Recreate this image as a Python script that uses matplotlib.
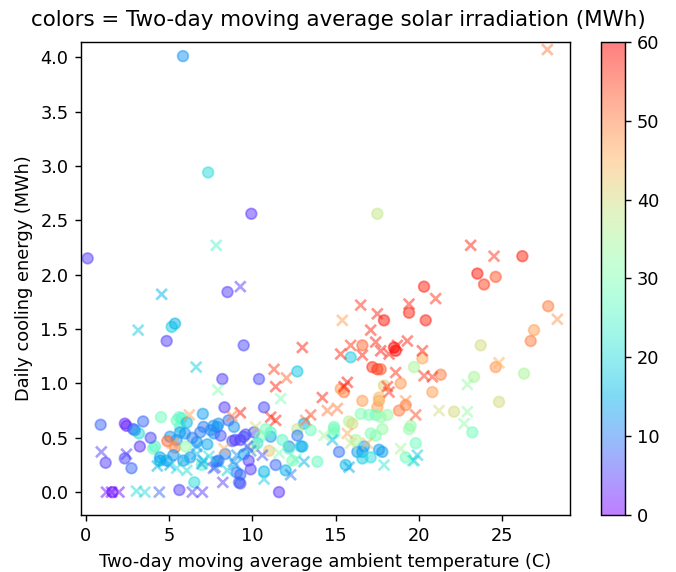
import matplotlib
matplotlib.use("Agg")
import matplotlib.pyplot as plt
import numpy as np

# circles: (temperature, cooling energy, solar irradiation)
circ_t = [5.84, 7.35, 9.94, 0.12, 17.5, 26.2, 23.5, 24.6, 23.9, 20.3, 8.51, 5.16, 5.36, 4.86, 9.48,
          8.2, 10.4, 12.7, 8.33, 10.7, 7.03, 4.52, 5.62, 0.9, 2.35, 2.45, 2.85, 3.45, 3.2, 2.95,
          3.25, 1.2, 2.35, 2.75, 1.6, 5.62, 9.28, 6.52, 9.07, 10.7, 11.6, 9.9, 11.4, 13.9, 12.9,
          12.2, 11.1, 11.1, 10.1, 10.8, 9.5, 8.8, 8.9, 7.9, 7.7, 7.07, 6.87, 5.76, 5.66, 5.96,
          5.46, 5.06, 4.9, 5.36, 4.16, 4.46, 5.26, 5.86, 6.27, 6.97, 6.67, 7.87, 8.37, 9.48, 7.67,
          7.97, 8.57, 8.97, 9.28, 9.6, 10.48, 10.1, 12.0, 12.2, 12.4, 9.2, 9.28, 9.78, 7.97, 11.0,
          15.5, 16.6, 17.6, 17.5, 18.8, 19.2, 13.1, 12.7, 12.7, 13.5, 14.9, 15.8, 16.5, 17.0, 17.4,
          17.7, 18.1, 17.1, 17.4, 17.8, 19.4, 19.8, 19.2, 16.3, 16.6, 16.7, 17.6, 17.8, 16.6, 15.6,
          15.2, 17.1, 16.2, 19.4, 17.9, 16.6, 15.9, 18.6, 18.5, 17.2, 17.5, 17.7, 19.7, 15.3, 18.9,
          17.9, 17.6, 20.4, 27.75, 26.9, 26.7, 23.7, 20.2, 24.6, 26.3, 23.3, 21.3, 20.8, 24.8, 22.1,
          19.5, 23.2, 14.9, 14.9, 16.0, 13.0, 4.05, 4.46, 4.86, 5.46, 6.07, 5.66,
          6.4, 7.3, 8.1, 10.3, 11.8, 6.0, 7.5, 3.9]
circ_e = [4.01, 2.94, 2.56, 2.15, 2.56, 2.17, 2.01, 1.98, 1.91, 1.89, 1.84, 1.52, 1.55, 1.39, 1.35,
          1.04, 1.04, 1.11, 0.78, 0.78, 0.72, 0.69, 0.69, 0.62, 0.63, 0.61, 0.58, 0.65, 0.54, 0.57,
          0.42, 0.27, 0.31, 0.22, 0.0, 0.02, 0.08, 0.09, 0.18, 0.19, 0.0, 0.21, 0.25, 0.28, 0.42,
          0.42, 0.51, 0.55, 0.55, 0.58, 0.35, 0.47, 0.6, 0.6, 0.54, 0.6, 0.55, 0.68, 0.6, 0.54,
          0.48, 0.51, 0.47, 0.41, 0.42, 0.29, 0.34, 0.29, 0.32, 0.25, 0.46, 0.28, 0.35, 0.51, 0.61,
          0.63, 0.66, 0.48, 0.48, 0.53, 0.51, 0.42, 0.2, 0.4, 0.29, 0.09, 0.16, 0.29, 0.29, 0.38,
          0.92, 0.84, 0.84, 0.78, 0.75, 0.8, 0.63, 0.58, 0.52, 0.57, 0.58, 0.65, 0.72, 0.71, 0.71,
          0.69, 0.71, 0.54, 0.52, 0.58, 0.58, 0.45, 0.32, 0.37, 0.37, 0.42, 0.39, 0.37, 0.31, 0.25,
          0.37, 0.32, 0.48, 1.65, 1.58, 1.35, 1.24, 1.3, 1.33, 1.15, 1.13, 1.13, 1.15, 0.95, 1.0,
          0.98, 0.87, 1.58, 1.71, 1.49, 1.39, 1.35, 1.23, 1.15, 1.09, 1.06, 1.08, 0.92, 0.83, 0.74,
          0.61, 0.55, 0.6, 0.54, 0.63, 0.42, 0.4, 0.32, 0.29, 0.66, 0.64, 0.55,
          0.5, 0.44, 0.52, 0.45, 0.48, 0.42, 0.57, 0.5]
circ_s = [12, 20, 4, 5, 38, 57, 58, 53, 55, 57, 5, 18, 15, 5, 6,
          5, 6, 17, 5, 6, 13, 28, 27, 8, 3, 3, 5, 8, 20, 12,
          4, 5, 6, 8, 1, 5, 5, 20, 10, 15, 4, 5, 8, 27, 18,
          10, 12, 25, 6, 28, 14, 6, 12, 12, 12, 10, 10, 25, 25, 12,
          12, 12, 52, 50, 25, 15, 12, 12, 12, 25, 12, 9, 10, 7, 12,
          12, 9, 5, 5, 6, 30, 38, 15, 25, 30, 8, 8, 5, 10, 42,
          50, 47, 47, 47, 50, 50, 14, 38, 10, 28, 30, 36, 30, 30, 28,
          32, 33, 30, 30, 33, 32, 28, 28, 13, 13, 13, 13, 13, 18, 16,
          9, 20, 35, 57, 58, 52, 18, 60, 60, 56, 56, 53, 35, 48, 48,
          42, 44, 57, 50, 47, 50, 40, 46, 48, 35, 35, 50, 47, 40, 40,
          33, 28, 28, 28, 40, 14, 27, 14, 14, 27, 16, 13,
          10, 14, 7, 22, 26, 32, 11, 6]

# crosses
cross_t = [7.83, 27.7, 23.1, 24.5, 4.56, 9.28, 3.15, 13.0, 6.63, 11.3, 12.05, 11.4, 7.93, 11.7, 9.28,
           14.2, 11.1, 11.4, 13.5, 14.5, 15.1, 6.22, 8.77, 0.94, 2.45, 1.25, 1.55, 2.0, 3.05, 3.55,
           4.42, 6.4, 7.0, 8.23, 10.7, 12.3, 13.1, 10.6, 4.66, 5.06, 5.46, 6.07, 6.67, 7.07, 7.87,
           7.67, 8.87, 9.07, 9.7, 6.67, 8.97, 7.77, 6.97, 8.3, 18.2, 19.2, 19.8, 13.2, 14.8, 15.7,
           15.9, 18.9, 19.6, 15.8, 17.9, 16.5, 19.4, 17.5, 15.4, 17.1, 15.9, 15.3, 16.6, 17.4, 17.7,
           18.2, 18.7, 19.3, 18.6, 15.7, 15.5, 18.1, 21.0, 28.3, 20.2, 24.8, 22.9, 20.3, 20.8, 21.2,
           22.9, 22.7, 19.9, 19.7,
           4.3, 5.9, 7.4, 8.5, 9.9, 11.6, 12.6, 14.3, 16.9, 5.2, 10.2]
cross_e = [2.27, 4.07, 2.27, 2.17, 1.82, 1.89, 1.49, 1.33, 1.15, 1.13, 1.05, 0.97, 0.94, 0.86, 0.73,
           0.87, 0.69, 0.66, 0.71, 0.75, 0.77, 0.71, 0.7, 0.37, 0.35, 0.0, 0.0, 0.0, 0.01, 0.0,
           0.0, 0.0, 0.0, 0.09, 0.12, 0.16, 0.28, 0.34, 0.28, 0.25, 0.22, 0.2, 0.35, 0.29, 0.28,
           0.22, 0.28, 0.34, 0.42, 0.42, 0.25, 0.23, 0.26, 0.4, 0.92, 0.84, 0.71, 0.66, 0.48, 0.54,
           0.45, 0.4, 0.29, 0.23, 0.25, 1.72, 1.73, 1.64, 1.58, 1.49, 1.35, 1.27, 1.26, 1.38, 1.3,
           1.27, 1.35, 1.39, 1.1, 1.01, 0.97, 0.97, 1.78, 1.59, 1.3, 1.19, 0.99, 1.07, 1.06, 0.75,
           0.74, 0.63, 0.34, 0.29,
           0.24, 0.3, 0.33, 0.2, 0.38, 0.36, 0.3, 0.52, 0.45, 0.45, 0.6]
cross_s = [25, 50, 57, 56, 15, 5, 18, 57, 18, 55, 52, 57, 30, 30, 58,
           57, 57, 57, 54, 50, 50, 47, 50, 5, 5, 2, 2, 2, 20, 20,
           8, 5, 5, 5, 18, 10, 15, 7, 14, 14, 20, 20, 16, 16, 12,
           6, 12, 12, 6, 13, 12, 10, 13, 45, 56, 48, 54, 50, 16, 46,
           38, 35, 28, 14, 22, 56, 57, 57, 47, 57, 56, 57, 57, 57, 58,
           58, 57, 57, 56, 58, 58, 56, 56, 48, 57, 45, 33, 56, 56, 40,
           33, 32, 18, 18,
           15, 18, 20, 18, 10, 30, 26, 34, 44, 48, 40]

fig = plt.figure(figsize=(676 / 128, 572 / 128), dpi=128)
ax = fig.add_axes([0.1198, 0.0997, 0.7232, 0.8269])
cax = fig.add_axes([0.8885, 0.0997, 0.0355, 0.8269])

sc = ax.scatter(circ_t, circ_e, c=circ_s, cmap='rainbow', vmin=0, vmax=60, alpha=0.5, marker='o')
ax.scatter(cross_t, cross_e, c=cross_s, cmap='rainbow', vmin=0, vmax=60, alpha=0.5, marker='x')

ax.set_xlim(-0.28, 29.05)
ax.set_ylim(-0.21, 4.14)
ax.set_xlabel('Two-day moving average ambient temperature (C)')
ax.set_ylabel('Daily cooling energy (MWh)')
fig.suptitle('colors = Two-day moving average solar irradiation (MWh)', x=0.5, y=0.982)

fig.colorbar(sc, cax=cax)

fig.savefig('out.png', dpi=128)
